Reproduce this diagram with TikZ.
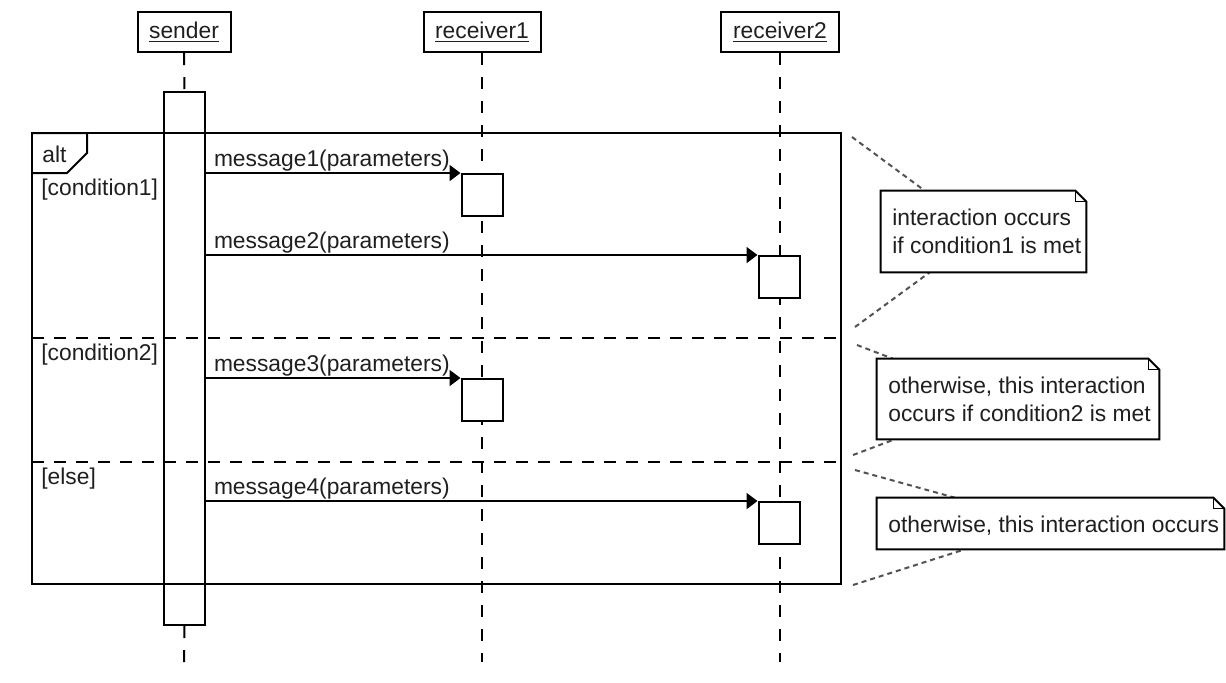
\documentclass[tikz,border=0pt]{standalone}
\usepackage{fontspec}
\setmainfont{Liberation Sans}
\usetikzlibrary{arrows.meta,calc}
\begin{document}
\begin{tikzpicture}[x=0.5pt,y=-0.5pt,
  every node/.style={font=\fontsize{11.4pt}{14pt}\selectfont, text=black!88},
  line/.style={line width=1pt, draw=black},
  hdr/.style={draw, line width=1pt, minimum height=20pt, inner sep=0pt, fill=white},
  lifeline/.style={line width=1pt, dash pattern=on 6pt off 6pt},
  actbox/.style={draw, line width=1pt, fill=white, minimum width=20.5pt, minimum height=21pt, inner sep=0pt},
  msg/.style={line width=1pt, -{Triangle[length=5.5pt,width=8pt]}},
  msglabel/.style={anchor=base west, inner sep=0pt, xshift=3.5pt, yshift=3.5pt},
  divider/.style={line width=1pt, dash pattern=on 6pt off 5pt},
  conn/.style={draw=black!68, line width=1pt, dash pattern=on 2.5pt off 2pt},
  notebox/.style={inner sep=0pt},
  noteline/.style={line width=1pt, draw=black, fill=white, line join=miter},
  txt/.style={anchor=base west, inner sep=0pt}]
\useasboundingbox (0,0) rectangle (1226,682);

% headers
\node[hdr, minimum width=46.5pt] (sender) at (184,32) {\underline{sender}};
\node[hdr, minimum width=58.5pt] (recv1) at (482,32) {\underline{receiver1}};
\node[hdr, minimum width=59pt] (recv2) at (780,32) {\underline{receiver2}};

% lifeline ends
\coordinate (sEnd) at (184,662);
\coordinate (r1End) at (482,662);
\coordinate (r2End) at (780,662);
\draw[lifeline] (recv1.south) -- (r1End);
\draw[lifeline] (recv2.south) -- (r2End);

% sender activation bar
\node[actbox, minimum height=266.5pt] (sbar) at (184.5,358.5) {};
\draw[lifeline] (sender.south) -- (sbar.north);
\draw[lifeline] (sbar.south) -- (sEnd);

% alt frame
\coordinate (fNW) at (32,133);
\coordinate (fSE) at (841,584);
\draw[line] (fNW) rectangle (fSE);
\draw[line] (32,133) -- (87,133) -- (87,153) -- (67,173) -- (32,173);
\coordinate (d1w) at (32,338); \coordinate (d1e) at (841,338);
\coordinate (d2w) at (32,462); \coordinate (d2e) at (841,462);
\draw[divider] (d1w) -- (d1e);
\draw[divider] (d2w) -- (d2e);

\node[txt] (altlbl) at (42,162) {alt};
\node[txt] (cond1) at (41,195) {[condition1]};
\node[txt] (cond2) at (41,360) {[condition2]};
\node[txt] (cond3) at (41,484) {[else]};

% receiver activations
\node[actbox] (a1) at (482,195) {};
\node[actbox] (a2) at (779,277) {};
\node[actbox] (a3) at (482,400) {};
\node[actbox] (a4) at (779,523) {};

% messages
\draw[msg] (a1.north west -| sbar.east) -- node[msglabel, pos=0] {message1(parameters)} (a1.north west);
\draw[msg] (a2.north west -| sbar.east) -- node[msglabel, pos=0] {message2(parameters)} (a2.north west);
\draw[msg] (a3.north west -| sbar.east) -- node[msglabel, pos=0] {message3(parameters)} (a3.north west);
\draw[msg] (a4.north west -| sbar.east) -- node[msglabel, pos=0] {message4(parameters)} (a4.north west);

% notes
\node[notebox, minimum width=102.5pt, minimum height=40.5pt] (n1) at (983.5,231.5) {};
\node[notebox, minimum width=141pt, minimum height=40pt] (n2) at (1018,399) {};
\node[notebox, minimum width=173.5pt, minimum height=25.5pt] (n3) at (1050.5,523.5) {};

\coordinate (k1a) at (852,137);
\coordinate (k1b) at (855,327);
\coordinate (k2a) at (857,345);
\coordinate (k2b) at (853,455);
\coordinate (k3a) at (855,470);
\coordinate (k3b) at (853,585);
\draw[conn] (k1a) -- ([xshift=22pt]n1.north west);
\draw[conn] (k1b) -- ([xshift=24.5pt]n1.south west);
\draw[conn] (k2a) -- ([xshift=8pt]n2.north west);
\draw[conn] (k2b) -- ([xshift=9pt]n2.south west);
\draw[conn] (k3a) -- ([xshift=39pt]n3.north west);
\draw[conn] (k3b) -- ([xshift=44pt]n3.south west);

\foreach \n in {n1,n2,n3}{
  \draw[noteline] (\n.north west) -- ([xshift=-5.5pt]\n.north east) -- ([yshift=-5.5pt]\n.north east) -- (\n.south east) -- (\n.south west) -- cycle;
  \draw[line, line width=0.75pt] ([xshift=-5.5pt]\n.north east) |- ([yshift=-5.5pt]\n.north east);
}

\node[txt] (n1a) at (892,225) {interaction occurs};
\node[txt] (n1b) at (892,253) {if condition1 is met};
\node[txt] (n2a) at (888,393) {otherwise, this interaction};
\node[txt] (n2b) at (888,421) {occurs if condition2 is met};
\node[txt] (n3a) at (888,532) {otherwise, this interaction occurs};
\end{tikzpicture}
\end{document}
